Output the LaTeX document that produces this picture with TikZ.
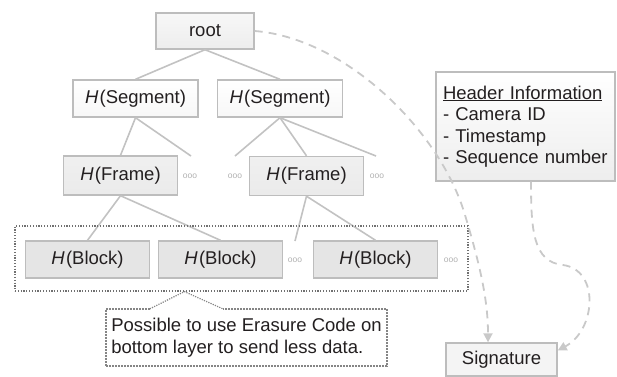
\documentclass[tikz,border=0pt]{standalone}
\usepackage{fontspec}
\setmainfont{Liberation Sans}
\usetikzlibrary{calc,arrows.meta}
\definecolor{textdark}{HTML}{231F20}
\definecolor{boxborder}{HTML}{BDBDBD}
\definecolor{treeline}{HTML}{C2C2C2}
\definecolor{dashline}{HTML}{C9C9C9}
\definecolor{dotgray}{HTML}{B0B0B0}
\definecolor{groupline}{HTML}{707070}
\definecolor{calloutline}{HTML}{858585}
\newcommand{\hashof}[1]{\textit{H}\kern1.2pt(#1)}
\begin{document}
\begin{tikzpicture}[x=1pt,y=-1pt,
  font=\fontsize{18.5}{21.5}\selectfont, text=textdark,
  box/.style={draw=boxborder, line width=1.4pt, inner sep=0pt, text=textdark},
  rootbox/.style={box, minimum width=98pt, minimum height=36pt, top color=gray!6, bottom color=gray!14},
  segbox/.style={box, minimum width=125pt, minimum height=37pt, top color=white, bottom color=gray!6},
  framebox/.style={box, minimum width=114pt, minimum height=39pt, top color=gray!12, bottom color=gray!16},
  blockbox/.style={box, minimum width=124pt, minimum height=37pt, fill=gray!20},
  treeedge/.style={draw=treeline, line width=1.6pt},
  moredots/.style={text=dotgray, font=\fontsize{8.5}{9}\selectfont, inner sep=0pt},
  linkarrow/.style={draw=dashline, line width=1.8pt, dash pattern=on 8pt off 6pt,
    -{Triangle[length=9pt,width=9pt,fill=dashline]}},
]
\useasboundingbox (0,0) rectangle (617,376);

% hash tree
\node[rootbox] (root) at (205,31) {root};
\node[segbox] (segL) at (135.5,98.5) {\hashof{Segment}};
\node[segbox] (segR) at (280,98.5) {\hashof{Segment}};
\node[framebox] (frameL) at (120.5,175.5) {\hashof{Frame}};
\node[framebox] (frameR) at (306.5,176) {\hashof{Frame}};
\node[blockbox] (blockA) at (87.5,259.5) {\hashof{Block}};
\node[blockbox] (blockB) at (220.5,259.5) {\hashof{Block}};
\node[blockbox] (blockC) at (375.5,259.5) {\hashof{Block}};

% elided siblings
\node[moredots] (dotsA) at (190,176) {ooo};
\node[moredots] (dotsB) at (235,176) {ooo};
\node[moredots] (dotsC) at (377,176) {ooo};
\node[moredots] (dotsD) at (295,260) {ooo};
\node[moredots] (dotsE) at (451,260) {ooo};
\coordinate (tipA) at (191,156);
\coordinate (tipB) at (235,156);
\coordinate (tipC) at (376,156);
\coordinate (tipD) at (295,241);

\draw[treeedge] (root.south) -- (segL.north);
\draw[treeedge] (root.south) -- (segR.north);
\draw[treeedge] (segL.south) -- (frameL.north);
\draw[treeedge] (segL.south) -- (tipA);
\draw[treeedge] (segR.south) -- (tipB);
\draw[treeedge] (segR.south) -- (frameR.north);
\draw[treeedge] (segR.south) -- (tipC);
\draw[treeedge] (frameL.south) -- (blockA.north);
\draw[treeedge] (frameL.south) -- (blockB.north);
\draw[treeedge] (frameR.south) -- (tipD);
\draw[treeedge] (frameR.south) -- (blockC.north);

% bottom layer group
\node[draw=groupline, line width=1.2pt, dash pattern=on 1.2pt off 1.6pt,
  minimum width=453pt, minimum height=65pt, inner sep=0pt] (layer) at (241.5,258.5) {};

% callout
\node[minimum width=281pt, minimum height=57pt, inner sep=0pt, align=left]
  (note) at (246.5,337.5) {Possible to use Erasure Code on\\bottom layer to send less data.};
\coordinate (pin) at ($(layer.south west)+(170,0)$);
\coordinate (pinL) at ($(note.north west)+(44,0)$);
\coordinate (pinR) at ($(note.north west)+(117,0)$);
\draw[calloutline, line width=2.2pt, dash pattern=on 2pt off 1pt]
  (pinL) -- (note.north west) -- (note.south west) -- (note.south east) -- (note.north east) -- (pinR);
\draw[calloutline, line width=1.2pt, dash pattern=on 1.2pt off 1.2pt]
  (pinL) -- (pin) -- (pinR);

% header and signature
\node[box, minimum width=179pt, minimum height=109pt, top color=white, bottom color=gray!14,
  text width=165pt, align=left] (header) at (525.5,126.5)
  {\underline{Header Information}\\- Camera ID\\- Timestamp\\- Sequence number};
\node[box, minimum width=111pt, minimum height=33pt, fill=gray!9] (sig) at (501.5,359.5) {Signature};

\draw[linkarrow] (root.east) .. controls (345,38) and (440,130) .. (465,215)
  .. controls (480,265) and (488,300) .. ([xshift=-13.5pt]sig.north);
\draw[linkarrow] ([xshift=5.5pt]header.south) .. controls (531,230) and (533,262) .. (563,265)
  .. controls (600,270) and (596,330) .. ([yshift=9pt]sig.east);
\end{tikzpicture}
\end{document}
